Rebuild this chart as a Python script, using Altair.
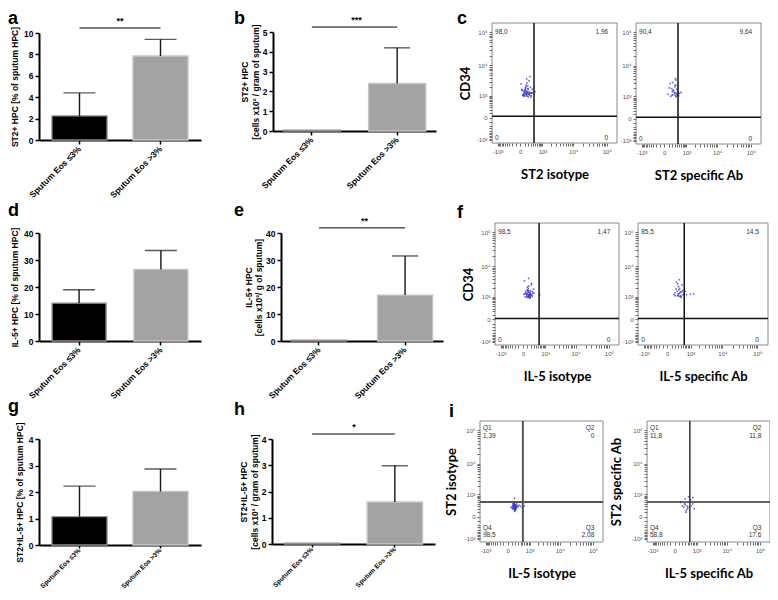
import altair as alt
import pandas as pd

W, H, M = 762, 584, 8
FONT = "Liberation Sans"
TFONT = "Lato"

cats = ["Sputum Eos ≤3%", "Sputum Eos >3%"]

# ---- bar panels: mean and upper error ----
a_mean = [2.25, 7.85]
a_err = [2.15, 1.55]
b_mean = [0.04, 2.40]
b_err = [0.0, 1.80]
d_mean = [14.0, 26.5]
d_err = [5.0, 7.0]
e_mean = [0.30, 17.0]
e_err = [0.0, 14.5]
g_mean = [1.07, 2.02]
g_err = [1.15, 0.85]
h_mean = [0.03, 1.60]
h_err = [0.0, 1.38]

a_sig, b_sig, e_sig, h_sig = 10.47, 5.25, 41.9, 4.19

# ---- flow cytometry events (x, y in fluorescence units) ----
c1_x = [60, 150, 220, 90, 300, 40, 170, 110, 260, 200, 130, 340, 70, 100, 250, 145, 30, 125, 320, 165,
        80, 235, 195, 55, 115, 285, 240, 105, 160, 140, 300, 170, 20, 200, 150, 130, 360, 95, 180, 270,
        350, 210, 160, 125, 190, 65, 135, 110, 230, 480]
c1_y = [1000, 1200, 1100, 1400, 900, 1600, 1300, 1150, 1050, 1800, 2100, 1250, 1500, 950, 1350, 2400, 1700, 1900, 1000, 2800,
        1200, 3300, 1450, 1050, 1650, 2000, 1150, 1300, 3800, 1100, 1250, 950, 2600, 1750, 1400, 1550, 1700, 1000, 1200, 4500,
        1300, 900, 1050, 1850, 2200, 1100, 1350, 1600, 1250, 1400]
c2_x = [200, 300, 350, 250, 400, 120, 320, 280, 430, 380, 220, 500, 160, 340, 420, 90, 300, 360, 240, 600,
        310, 140, 390, 210, 330, 470, 190, 350, 230, 410]
c2_y = [1100, 1300, 1000, 1600, 1200, 2000, 2500, 1400, 1100, 1800, 3000, 1300, 1000, 3600, 1500, 1200, 2200, 1000, 1700, 1400,
        1100, 2800, 1250, 1500, 4000, 1050, 1900, 1300, 1150, 2400]
f1_x = [100, 130, 160, 40, 190, 120, 250, 70, 210, 140, 20, 170, 60, 280, 125, 155, 95, 200, 135, 50,
        165, 85, 225, 175, 105, 250, 30, 160, 120, 190, 140, 100, 320, 150, 80, 220, 135, 60, 155, 125,
        300, 145, 165, 110, 185, 600, 240, 175, 90, 160]
f1_y = [1000, 1100, 1200, 1300, 950, 1500, 1050, 1400, 1150, 1700, 1250, 900, 1600, 1350, 2000, 1100, 1800, 1250, 2400, 1000,
        1450, 1150, 2900, 1050, 1300, 1550, 3500, 1200, 950, 1650, 1000, 2200, 1400, 1100, 1250, 2600, 4200, 1350, 1000, 1500,
        1900, 1200, 1050, 1700, 1300, 1200, 1150, 1400, 1050, 1250]
f2_x = [200, 300, 400, 250, 500, 350, 180, 450, 280, 320, 550, 230, 380, 420, 300, 160, 480, 340, 700, 360,
        220, 400, 310, 1000, 1300, 270, 440, 330, 620, 290]
f2_y = [1100, 1300, 1000, 1600, 1200, 2000, 1400, 2600, 1100, 1800, 1300, 3200, 1500, 1000, 2300, 1200, 1700, 3800, 1200, 1400,
        1900, 1100, 1300, 1250, 1300, 2800, 1500, 1050, 1600, 1150]
i1_x = [150, 180, 200, 130, 220, 170, 160, 190, 140, 210, 120, 250, 175, 155, 195, 165, 230, 145, 185, 100,
        205, 135, 260, 170, 150, 190, 125, 215, 180, 160, 300, 110, 240, 175, 145, 200, 80, 350, 165, 185,
        155, 420, 195, 140, 600, 170, 140, 210, 130, 180]
i1_y = [250, 300, 200, 350, 280, 220, 400, 180, 320, 260, 300, 240, 150, 380, 330, 270, 210, 450, 290, 230,
        350, 190, 310, 440, 260, 170, 420, 300, 240, 340, 280, 200, 380, 120, 310, 460, 260, 330, 470, 210,
        450, 280, 160, 240, 300, 700, 320, 190, 270, 230]
i2_x = [250, 300, 350, 200, 400, 280, 330, 380, 150, 420, 600, 800, 700, 300, 450, 550, 700]
i2_y = [250, 350, 150, 300, 200, 400, 100, 300, 450, 250, 300, 200, 380, 650, 800, 600, 750]

# quadrant percentages: top-left, top-right, bottom-left, bottom-right
c1_q = ["98,0", "1,96", "0", "0"]
c2_q = ["90,4", "9,64", "0", "0"]
f1_q = ["98,5", "1,47", "0", "0"]
f2_q = ["85,5", "14,5", "0", "0"]
i1_q = ["1,39", "0", "98,5", "2,08"]
i2_q = ["11,8", "11,8", "58,8", "17,6"]

XDOM = [-1600, 200000]
YDOM = [-1300, 190000]
MAJ = [-1000, 0, 1000, 10000, 100000]
MIN_LIN = [-900, -800, -700, -600, -500, -400, -300, -200, -100, 100, 200, 300, 400, 500, 600, 700, 800, 900]
MIN_LOG = [2000, 3000, 4000, 5000, 6000, 7000, 8000, 9000,
           20000, 30000, 40000, 50000, 60000, 70000, 80000, 90000]
LBL = ("datum.value == 1000 ? '10³' : datum.value == 10000 ? '10⁴' : "
       "datum.value == 100000 ? '10⁵' : datum.value == -1000 ? '-10³' : "
       "datum.value == 0 ? '0' : ''")


def bar_panel(mean, err, ydom, yticks, ytitle, xr, yr, pin, pout, sig=None, stars=None, cap=30, tpad=4,
              xfs=8.5, xpad=3, xtick=4):
    df = pd.DataFrame({"cat": cats, "mean": mean, "err": err, "base": [0.0, 0.0]})
    df["hi"] = df["mean"] + df["err"]

    def xs():
        return alt.Scale(domain=cats, range=[xr[0] - M, xr[1] - M], paddingInner=pin, paddingOuter=pout)

    def ys():
        return alt.Scale(domain=ydom, range=[yr[0] - M, yr[1] - M], nice=False, zero=False)

    xax = alt.Axis(orient="bottom", offset=(yr[0] - M) - H, title=None, labelAngle=-45,
                   labelAlign="right", labelBaseline="middle",
                   labelFont=FONT, labelFontSize=xfs, labelFontWeight="bold", labelColor="black",
                   labelPadding=xpad, labelOverlap=False, tickSize=xtick, tickWidth=1.5, tickColor="black",
                   domainWidth=2, domainColor="black", grid=False)
    yax = alt.Axis(orient="left", offset=-(xr[0] - M), values=yticks, title=ytitle,
                   labelFont=FONT, labelFontSize=8.5, labelFontWeight="bold", labelColor="black",
                   labelPadding=2, labelFlush=False, tickSize=4, tickWidth=1.5, tickColor="black",
                   domainWidth=2, domainColor="black", grid=False,
                   titleFont=FONT, titleFontSize=8.5, titleFontWeight="bold", titleColor="black",
                   titlePadding=tpad)
    base = alt.Chart(df)
    bars = base.mark_bar(strokeWidth=1.3).encode(
        x=alt.X("cat:N", scale=xs(), axis=xax, sort=cats),
        y=alt.Y("mean:Q", scale=ys(), axis=yax),
        y2="base:Q",
        fill=alt.Fill("cat:N", scale=alt.Scale(domain=cats, range=["#000000", "#a3a3a3"]), legend=None),
        stroke=alt.Stroke("cat:N", scale=alt.Scale(domain=cats, range=["#8f8f8f", "#c6c6c6"]), legend=None),
    )
    errs = base.transform_filter("datum.err > 0").mark_rule(color="#151515", strokeWidth=1.4).encode(
        x=alt.X("cat:N", scale=xs(), axis=None, sort=cats),
        y=alt.Y("mean:Q", scale=ys(), axis=None),
        y2="hi:Q",
    )
    caps = base.transform_filter("datum.err > 0").mark_tick(color="#151515", thickness=1.4, size=cap).encode(
        x=alt.X("cat:N", scale=xs(), axis=None, sort=cats),
        y=alt.Y("hi:Q", scale=ys(), axis=None),
    )
    layers = [bars, errs, caps]
    if sig is not None:
        step = (xr[1] - xr[0]) / (2 - pin + 2 * pout)
        sdf = pd.DataFrame({"c1": [cats[0]], "c2": [cats[1]], "y": [sig], "t": [stars]})
        line = alt.Chart(sdf).mark_rule(color="black", strokeWidth=1).encode(
            x=alt.X("c1:N", scale=xs(), axis=None), x2="c2:N",
            y=alt.Y("y:Q", scale=ys(), axis=None))
        txt = alt.Chart(sdf).mark_text(dx=step / 2, dy=-2, baseline="bottom", font=FONT,
                                       fontSize=9, fontWeight="bold", color="black").encode(
            x=alt.X("c1:N", scale=xs(), axis=None),
            y=alt.Y("y:Q", scale=ys(), axis=None), text="t:N")
        layers += [line, txt]
    return layers


def flow_panel(px, py, xr, yr, gate, quads, named, xtitle, ytitle, ytpad, gcol, gw):
    def xs():
        return alt.Scale(type="symlog", constant=280, domain=XDOM, range=[xr[0] - M, xr[1] - M],
                         nice=False, zero=False)

    def ys():
        return alt.Scale(type="symlog", constant=280, domain=YDOM, range=[yr[0] - M, yr[1] - M],
                         nice=False, zero=False)

    common = dict(labelExpr=LBL, labelFont=FONT, labelFontSize=6, labelColor="#555555",
                  labelOverlap=False, labelFlush=False, labelPadding=2,
                  tickSize=3, tickWidth=0.8, tickColor="#444444", domain=False, grid=False,
                  titleFont=TFONT, titleFontSize=13, titleFontWeight="bold", titleColor="black")
    xax = alt.Axis(orient="bottom", offset=(yr[0] - M) - H, values=MAJ + MIN_LIN + MIN_LOG,
                   title=xtitle, titlePadding=14, **common)
    yax = alt.Axis(orient="left", offset=-(xr[0] - M), values=MAJ + MIN_LIN + MIN_LOG,
                   title=ytitle, titlePadding=ytpad, **common)
    pdf = pd.DataFrame({"x": px, "y": py})
    box = pd.DataFrame({"x0": [XDOM[0]], "x1": [XDOM[1]], "y0": [YDOM[0]], "y1": [YDOM[1]],
                        "gx": [gate[0]], "gy": [gate[1]]})
    frame = alt.Chart(box).mark_rect(fillOpacity=0, stroke="#8a8a8a", strokeWidth=1).encode(
        x=alt.X("x0:Q", scale=xs(), axis=None), x2="x1:Q",
        y=alt.Y("y0:Q", scale=ys(), axis=None), y2="y1:Q")
    pts = alt.Chart(pdf).mark_square(size=2.5, color="#3a3ad0", opacity=0.8).encode(
        x=alt.X("x:Q", scale=xs(), axis=xax), y=alt.Y("y:Q", scale=ys(), axis=yax))
    vg = alt.Chart(box).mark_rule(color=gcol, strokeWidth=gw).encode(
        x=alt.X("gx:Q", scale=xs(), axis=None),
        y=alt.Y("y0:Q", scale=ys(), axis=None), y2="y1:Q")
    hg = alt.Chart(box).mark_rule(color=gcol, strokeWidth=gw).encode(
        y=alt.Y("gy:Q", scale=ys(), axis=None),
        x=alt.X("x0:Q", scale=xs(), axis=None), x2="x1:Q")
    if named:
        ly = [115000, 66000, -313, -678]
        lt = ["Q1", quads[0], "Q4", quads[2]]
        rt = ["Q2", quads[1], "Q3", quads[3]]
    else:
        ly = [102000, -823]
        lt = [quads[0], quads[2]]
        rt = [quads[1], quads[3]]
    qstyle = dict(baseline="middle", font=FONT, fontSize=6.5, fill="#333333")
    ql = alt.Chart(pd.DataFrame({"x": [-1250] * len(ly), "y": ly, "t": lt})).mark_text(
        align="left", **qstyle).encode(
        x=alt.X("x:Q", scale=xs(), axis=None), y=alt.Y("y:Q", scale=ys(), axis=None), text="t:N")
    qr = alt.Chart(pd.DataFrame({"x": [110000] * len(ly), "y": ly, "t": rt})).mark_text(
        align="right", **qstyle).encode(
        x=alt.X("x:Q", scale=xs(), axis=None), y=alt.Y("y:Q", scale=ys(), axis=None), text="t:N")
    return [frame, pts, vg, hg, ql, qr]


layers = []
layers += bar_panel(a_mean, a_err, [0, 10], [0, 2, 4, 6, 8, 10], "ST2+ HPC  [% of sputum HPC]",
                    (39, 201), (140, 33), 0.32, 0.16, a_sig, "**", 32)
layers += bar_panel(b_mean, b_err, [0, 5], [0, 1, 2, 3, 4, 5], ["ST2+ HPC", "[cells x10² / gram of sputum]"],
                    (273, 436), (131, 32), 0.33, 0.12, b_sig, "***", 26, 2)
layers += bar_panel(d_mean, d_err, [0, 40], [0, 10, 20, 30, 40], "IL-5+ HPC [% of sputum HPC]",
                    (39, 201), (341, 233), 0.34, 0.16, None, None, 32)
layers += bar_panel(e_mean, e_err, [0, 40], [0, 10, 20, 30, 40], ["IL-5+ HPC", "[cells x10²/ g of sputum]"],
                    (281, 443), (341, 233), 0.36, 0.12, e_sig, "**", 26, 2)
layers += bar_panel(g_mean, g_err, [0, 4], [0, 1, 2, 3, 4], "ST2+IL-5+ HPC  [% of sputum HPC]",
                    (39, 201), (545, 439), 0.32, 0.16, None, None, 32, 4, 6.6, 1, 3)
layers += bar_panel(h_mean, h_err, [0, 4], [0, 1, 2, 3, 4], ["ST2+IL-5+ HPC", "[cells x10² / gram of sputum]"],
                    (272, 435), (544, 439), 0.33, 0.15, h_sig, "*", 26, 2, 6.6, 1, 3)
layers += flow_panel(c1_x, c1_y, (492, 617), (143, 23), (440, 30), c1_q, False,
                     "ST2 isotype", "CD34", 4, "#111111", 1.5)
layers += flow_panel(c2_x, c2_y, (636, 761), (144, 23), (440, 30), c2_q, False,
                     "ST2 specific Ab", None, 4, "#111111", 1.5)
layers += flow_panel(f1_x, f1_y, (495, 619), (345, 223), (570, 20), f1_q, False,
                     "IL-5 isotype", "CD34", 4, "#111111", 1.5)
layers += flow_panel(f2_x, f2_y, (638, 768), (345, 223), (570, 20), f2_q, False,
                     "IL-5 specific Ab", None, 4, "#111111", 1.5)
layers += flow_panel(i1_x, i1_y, (480, 603), (542, 421), (520, 480), i1_q, True,
                     "IL-5 isotype", "ST2 isotype", 6, "#555555", 2)
layers += flow_panel(i2_x, i2_y, (647, 770), (542, 421), (520, 480), i2_q, True,
                     "IL-5 specific Ab", "ST2 specific Ab", 8, "#333333", 1.5)

letters = [("a", 0, 16), ("b", 226, 16), ("c", 449, 16),
           ("d", 0, 208), ("e", 226, 208), ("f", 449, 210),
           ("g", 0, 404), ("h", 226, 407), ("i", 441, 409)]
for t, x, y in letters:
    layers.append(
        alt.Chart(pd.DataFrame({"t": [t]})).mark_text(
            font=FONT, fontSize=18, fontWeight="bold", align="left", baseline="alphabetic", fill="black"
        ).encode(x=alt.value(x), y=alt.value(y), text="t:N")
    )

chart = alt.layer(*layers).resolve_scale(
    x="independent", y="independent"
).resolve_axis(
    x="independent", y="independent"
).properties(
    width=W, height=H, autosize=alt.AutoSizeParams(type="none"), padding=0
).configure_view(stroke=None)

chart.save("out.html", embed_options={"renderer": "svg", "actions": False})
